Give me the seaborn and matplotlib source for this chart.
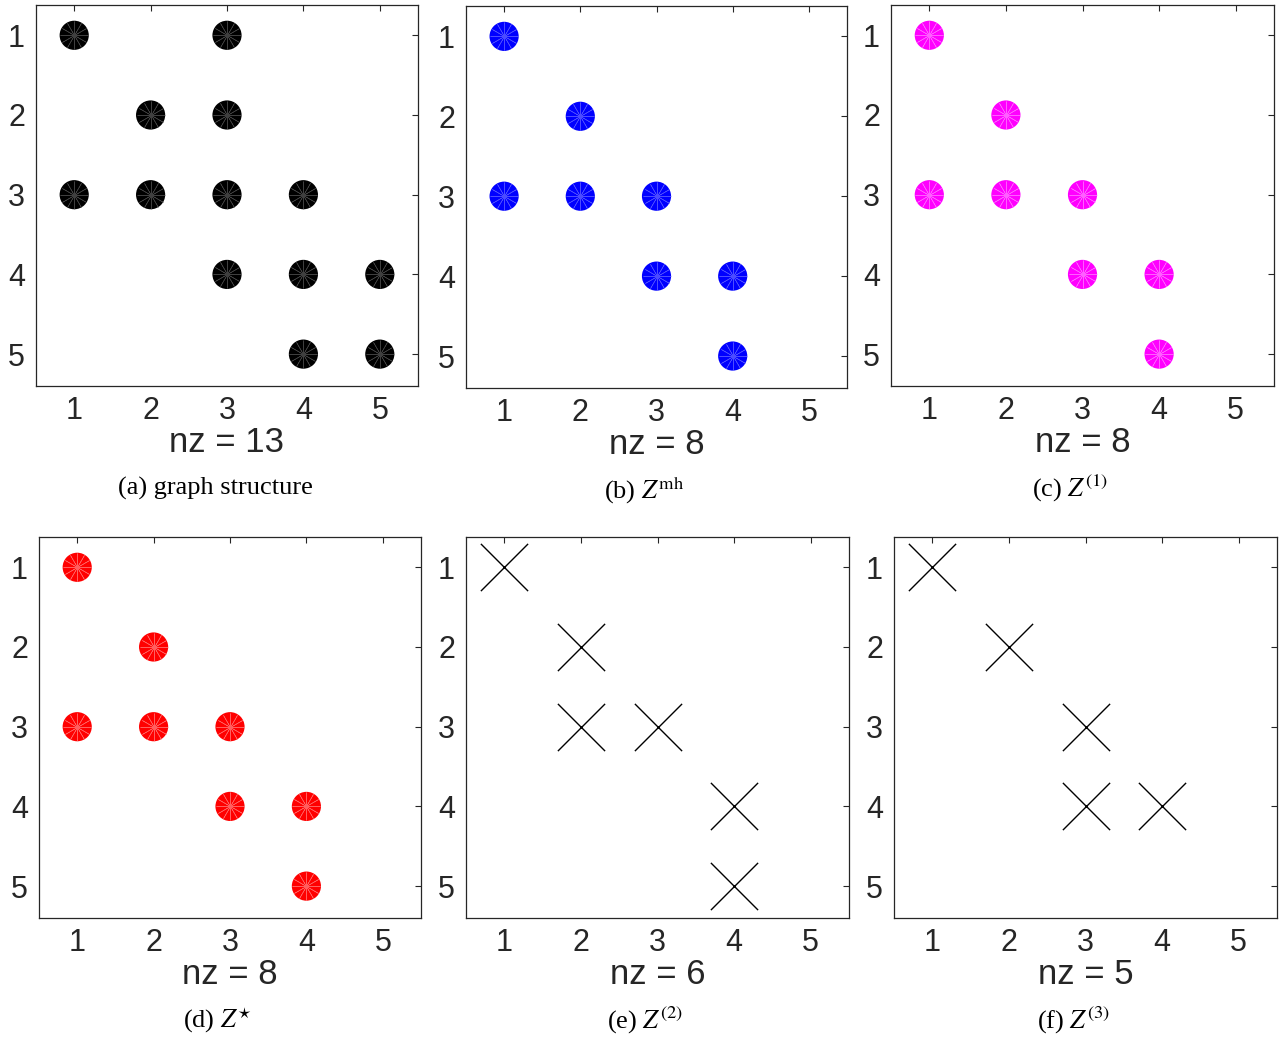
import matplotlib
matplotlib.use("Agg")
import matplotlib.pyplot as plt
import seaborn as sns
import pandas as pd

sns.set_style("white")
plt.rcParams['font.family'] = ['Liberation Sans', 'DejaVu Sans']
plt.rcParams['mathtext.fontset'] = 'stix'

# nonzero pattern of each matrix: row index, column index
rows_a = [1, 1, 2, 2, 3, 3, 3, 3, 4, 4, 4, 5, 5]
cols_a = [1, 3, 2, 3, 1, 2, 3, 4, 3, 4, 5, 4, 5]
rows_mh = [1, 2, 3, 3, 3, 4, 4, 5]
cols_mh = [1, 2, 1, 2, 3, 3, 4, 4]
rows_e = [1, 2, 3, 3, 4, 5]
cols_e = [1, 2, 2, 3, 4, 4]
rows_f = [1, 2, 3, 4, 4]
cols_f = [1, 2, 3, 3, 4]

ticks = [1, 2, 3, 4, 5]

panels = [
    (rows_a, cols_a, "black", "o", "(a) graph structure"),
    (rows_mh, cols_mh, "blue", "o", r"(b) $Z^{\mathrm{mh}}$"),
    (rows_mh, cols_mh, "magenta", "o", r"(c) $Z^{(1)}$"),
    (rows_mh, cols_mh, "red", "o", r"(d) $Z^{\star}$"),
    (rows_e, cols_e, "black", "x", r"(e) $Z^{(2)}$"),
    (rows_f, cols_f, "black", "x", r"(f) $Z^{(3)}$"),
]

W, H = 1282, 1038
boxes = [
    (36, 5, 418, 386), (466, 6, 847, 388), (891, 5, 1274, 386),
    (39, 537, 421, 918), (466, 537, 849, 918), (894, 537, 1277, 918),
]
lighter = {"black": "#6a6a6a", "blue": "#7f7fff", "magenta": "#ff9fff", "red": "#ff9f9f"}

fig = plt.figure(figsize=(W / 100, H / 100), dpi=100)
for (r, c, color, mk, cap), (x0, y0, x1, y1) in zip(panels, boxes):
    ax = fig.add_axes([x0 / W, 1 - y1 / H, (x1 - x0) / W, (y1 - y0) / H])
    df = pd.DataFrame({"col": c, "row": r})
    if mk == "o":
        sns.scatterplot(data=df, x="col", y="row", ax=ax, marker="o", s=21 ** 2,
                        color=color, edgecolor="none", linewidth=0, legend=False)
        sns.scatterplot(data=df, x="col", y="row", ax=ax, marker=(12, 2, 0), s=20 ** 2,
                        color=lighter[color], linewidth=0.4, alpha=0.6, legend=False)
    else:
        sns.scatterplot(data=df, x="col", y="row", ax=ax, marker="x", s=34 ** 2,
                        color=color, linewidth=1.0, legend=False)
    ax.set_xlim(0.5, 5.5)
    ax.set_ylim(5.4, 0.62)
    ax.set_xticks(ticks)
    ax.set_yticks(ticks)
    ax.tick_params(direction="in", length=4, width=0.8, labelsize=22, colors="#262626",
                   top=True, right=True, pad=7.5)
    ax.tick_params(axis="y", pad=8)
    for sp in ax.spines.values():
        sp.set_color("#262626")
        sp.set_linewidth(0.9)
    ax.set_ylabel("")
    ax.set_xlabel(f"nz = {len(r)}", fontsize=25, color="#262626", labelpad=0)
    # caption sits a little left of the axes centre, as in the source figure
    ax.text(0.5 - 12 / (x1 - x0), -0.268, cap, transform=ax.transAxes, ha="center",
            va="center", fontsize=19, family="Liberation Serif", color="black")

fig.savefig("out.png", dpi=100)
